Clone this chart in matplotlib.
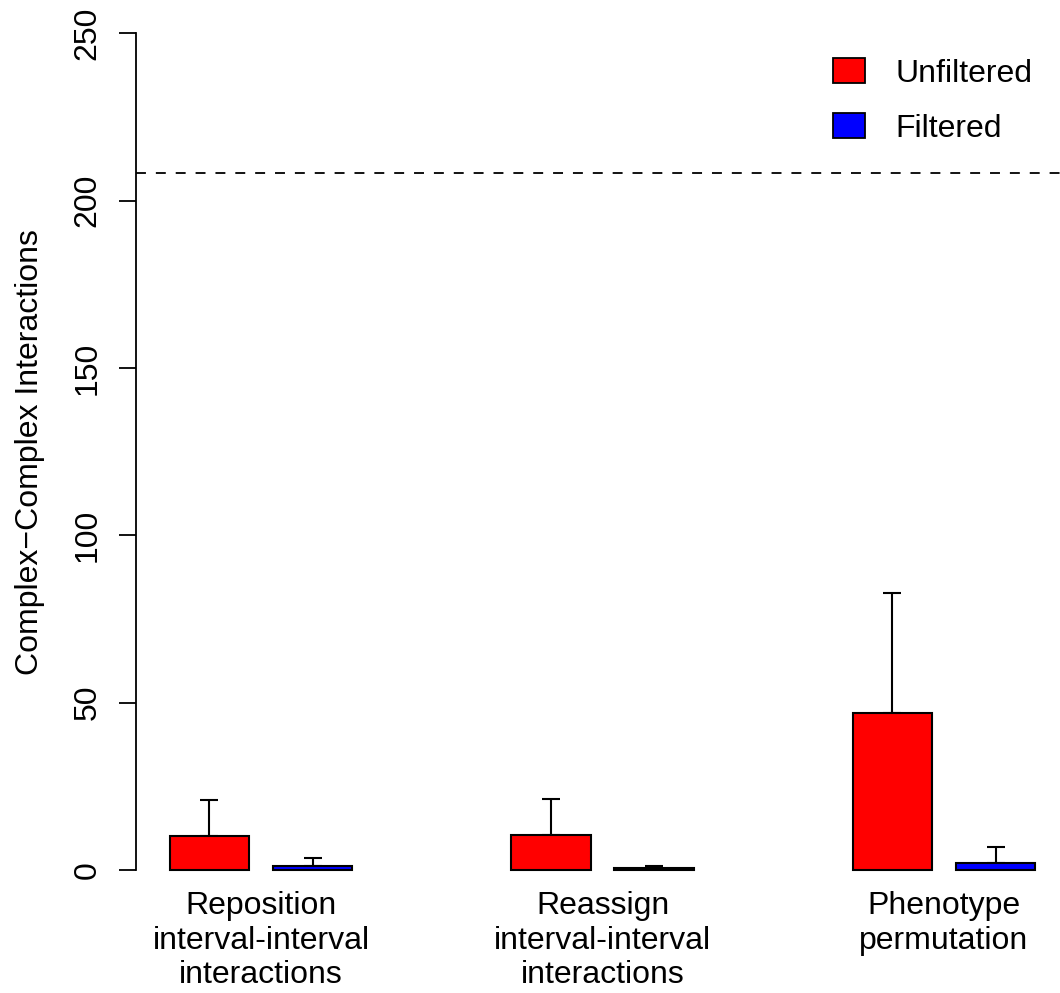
import matplotlib
matplotlib.use("Agg")
import matplotlib.pyplot as plt
import numpy as np
from matplotlib.patches import Patch
from matplotlib.transforms import blended_transform_factory

plt.rcParams['font.family'] = ['Liberation Sans', 'DejaVu Sans']

# Data
groups = ["Reposition\ninterval-interval\ninteractions",
          "Reassign\ninterval-interval\ninteractions",
          "Phenotype\npermutation"]
series = ["Unfiltered", "Filtered"]
colors = ["#FF0000", "#0000FF"]
unfiltered = [10.2, 10.5, 46.9]
unfiltered_err = [10.7, 10.7, 35.8]
filtered = [1.2, 0.6, 2.1]
filtered_err = [2.4, 0.6, 4.8]
threshold = 208.2

W, H = 1060, 993
fig = plt.figure(figsize=(W / 100, H / 100), dpi=100)
ax_left, ax_right = 136, 1060
ax_top, ax_bottom = 0, 903.5
ax = fig.add_axes([ax_left / W, (H - ax_bottom) / H,
                   (ax_right - ax_left) / W, (ax_bottom - ax_top) / H])

fs = 23
n = len(groups)
red_centers = np.array([2.5 + 4.3 * i for i in range(n)])
blue_centers = red_centers + 1.3

ekw = dict(elinewidth=1.5, capthick=1.5, ecolor='black')
ax.bar(red_centers, unfiltered, width=1.0, color=colors[0], edgecolor='black',
       linewidth=1.5, zorder=2)
ax.bar(blue_centers, filtered, width=1.0, color=colors[1], edgecolor='black',
       linewidth=1.5, zorder=2)
ax.errorbar(red_centers, unfiltered, yerr=[np.zeros(n), unfiltered_err],
            fmt='none', capsize=6.5, zorder=1, **ekw)
ax.errorbar(blue_centers, filtered, yerr=[np.zeros(n), filtered_err],
            fmt='none', capsize=6.5, zorder=1, **ekw)

ax.axhline(threshold, color='black', linewidth=1.3, linestyle=(0, (5.5, 5.5)),
           zorder=0)

x0 = (ax_left - 11) / 79.4
x1 = (ax_right - 11) / 79.4
ax.set_xlim(x0, x1)
ax.set_ylim(-10, 260)

for s in ['top', 'right', 'bottom']:
    ax.spines[s].set_visible(False)
ax.spines['left'].set_bounds(0, 250)
ax.spines['left'].set_linewidth(1.3)
ax.set_xticks([])
ax.set_yticks([0, 50, 100, 150, 200, 250])
ax.set_yticklabels(['0', '50', '100', '150', '200', '250'], rotation=90,
                   va='center', fontsize=fs)
ax.tick_params(axis='y', length=12, width=1.3, pad=12)
ax.set_ylabel("Complex\u2212Complex Interactions", fontsize=fs, labelpad=20)

trans = blended_transform_factory(ax.transData, fig.transFigure)
for i, g in enumerate(groups):
    cx = (red_centers[i] + blue_centers[i]) / 2
    ax.text(cx, (H - 891) / H, g, transform=trans, ha='center', va='top',
            fontsize=fs, linespacing=1.2)

handles = [Patch(facecolor=c, edgecolor='black', linewidth=1.3) for c in colors]
leg = fig.legend(handles, series, loc='upper left',
                 bbox_to_anchor=(833 / W, (H - 58) / H), frameon=False,
                 fontsize=fs, handlelength=1.0, handleheight=0.85,
                 handletextpad=0.95, labelspacing=0.75, borderpad=0,
                 borderaxespad=0)

fig.savefig("out.png", dpi=100)
